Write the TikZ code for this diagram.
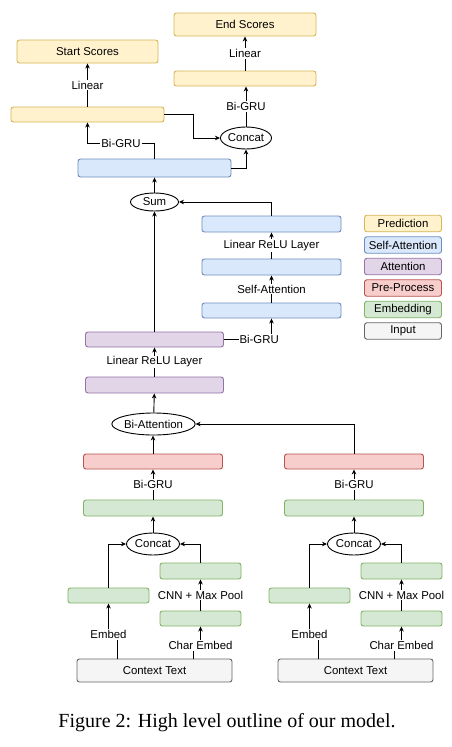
\documentclass[tikz,border=0pt]{standalone}
\usepackage{fontspec}
\setmainfont{Liberation Sans}
\newfontfamily\capfont{Liberation Serif}
\usepackage{tikz}
\usetikzlibrary{arrows.meta,shapes.geometric,calc}
\usepackage{xcolor}

\definecolor{predfill}{HTML}{FFF2CC}\definecolor{predline}{HTML}{D6B656}
\definecolor{safill}{HTML}{DAE8FC}\definecolor{saline}{HTML}{6C8EBF}
\definecolor{attfill}{HTML}{E1D5E7}\definecolor{attline}{HTML}{9673A6}
\definecolor{prefill}{HTML}{F8CECC}\definecolor{preline}{HTML}{B85450}
\definecolor{embfill}{HTML}{D5E8D4}\definecolor{embline}{HTML}{82B366}
\definecolor{inpfill}{HTML}{F5F5F5}\definecolor{inpline}{HTML}{666666}

\newcommand{\lblfont}{\fontsize{11.4}{13}\selectfont}

\tikzset{
  blk/.style={rectangle, rounded corners=2.5pt, line width=0.9pt, inner sep=0pt, font=\lblfont},
  pred/.style={blk, fill=predfill, draw=predline},
  sa/.style={blk, fill=safill, draw=saline},
  att/.style={blk, fill=attfill, draw=attline},
  pre/.style={blk, fill=prefill, draw=preline},
  emb/.style={blk, fill=embfill, draw=embline},
  inp/.style={blk, fill=inpfill, draw=inpline},
  op/.style={ellipse, draw, line width=0.9pt, fill=white, inner sep=0pt, font=\lblfont},
  lbl/.style={fill=white, inner sep=1pt, font=\lblfont},
  arr/.style={-{Stealth[length=5pt,width=4.5pt,inset=1.5pt]}, line width=0.9pt},
}

\begin{document}
\begin{tikzpicture}[x=1pt, y=-1pt]
  \useasboundingbox[fill=white] (0,0) rectangle (452,747);

  % prediction
  \node[pred, minimum width=142pt, minimum height=23pt] (endsc) at (245,24.5) {End Scores};
  \node[pred, minimum width=141pt, minimum height=23pt] (startsc) at (87.5,51.5) {Start Scores};
  \node[pred, minimum width=142pt, minimum height=15pt] (predR) at (245,78.5) {};
  \node[pred, minimum width=153pt, minimum height=15pt] (predL) at (87.5,114.5) {};
  \node[op, minimum width=49pt, minimum height=22pt] (concatT) at (246,138) {Concat};

  % self-attention
  \node[sa, minimum width=153pt, minimum height=18pt] (saTop) at (154.5,168) {};
  \node[op, minimum width=48pt, minimum height=18pt] (sum) at (154.5,202) {Sum};
  \node[sa, minimum width=139pt, minimum height=16pt] (sa1) at (271.5,224) {};
  \node[sa, minimum width=139pt, minimum height=16pt] (sa2) at (271.5,267) {};
  \node[sa, minimum width=139pt, minimum height=15pt] (sa3) at (271.5,310.5) {};

  % attention
  \node[att, minimum width=138pt, minimum height=15pt] (att2) at (154.5,339.5) {};
  \node[att, minimum width=138pt, minimum height=16pt] (att1) at (154.5,385) {};
  \node[op, minimum width=71pt, minimum height=22pt] (biatt) at (153.5,424) {Bi-Attention};

  % two embedding branches
  \foreach \s/\dx in {L/0,R/201}{
    \node[pre, minimum width=139pt, minimum height=15pt] (pre\s) at (153+\dx,461.5) {};
    \node[emb, minimum width=139pt, minimum height=16pt] (emb\s) at (153+\dx,508) {};
    \node[op, minimum width=53pt, minimum height=22pt] (concat\s) at (153+\dx,544) {Concat};
    \node[emb, minimum width=81pt, minimum height=15pt] (word\s) at (108.5+\dx,595.5) {};
    \node[emb, minimum width=81pt, minimum height=16pt] (cnn\s) at (200.5+\dx,571) {};
    \node[emb, minimum width=81pt, minimum height=15pt] (char\s) at (200.5+\dx,618.5) {};
    \node[inp, minimum width=155pt, minimum height=23pt] (ctx\s) at (154.5+\dx,670.5) {Context Text};

    \draw[arr] ([xshift=-37.5pt]ctx\s.north) -- ++(0,-24) -| node[lbl,pos=0.5]{Embed} (word\s.south);
    \draw[arr] ([xshift=38.5pt]ctx\s.north) -- ++(0,-13) -| node[lbl,pos=0.5]{Char Embed} (char\s.south);
    \draw[arr] (char\s) -- node[lbl]{CNN + Max Pool} (cnn\s);
    \draw[arr] (word\s.north) |- (concat\s.west);
    \draw[arr] (cnn\s.north) |- (concat\s.east);
    \draw[arr] (concat\s) -- (emb\s);
    \draw[arr] (emb\s) -- node[lbl]{Bi-GRU} (pre\s);
  }

  \draw[arr] (preL.north) -- (preL.north |- biatt.south);
  \draw[arr] (preR.north) |- (biatt.east);
  \draw[arr] (biatt) -- (att1);
  \draw[arr] (att1) -- node[lbl]{Linear ReLU Layer} (att2);
  \draw[arr] (att2.east) -| node[lbl,pos=0.37]{Bi-GRU} (sa3.south);
  \draw[arr] (att2) -- (sum);
  \draw[arr] (sa3) -- node[lbl]{Self-Attention} (sa2);
  \draw[arr] (sa2) -- node[lbl]{Linear ReLU Layer} (sa1);
  \draw[arr] (sa1.north) |- (sum.east);
  \draw[arr] (sum) -- (saTop);
  \draw[arr] (saTop.east) -| (concatT.south);
  \draw[arr] (saTop.north) -- ++(0,-15) -| node[lbl,pos=0.25]{Bi-GRU} (predL.south);
  \draw[arr] (predL.east) -- ++(29,0) |- (concatT.west);
  \draw[arr] (predL) -- node[lbl]{Linear} (startsc);
  \draw[arr] (concatT.north) -- node[lbl]{Bi-GRU} (concatT.north |- predR.south);
  \draw[arr] (predR) -- node[lbl]{Linear} (endsc);

  % legend
  \foreach \st/\txt [count=\i] in {pred/Prediction, sa/Self-Attention, att/Attention,
      pre/Pre-Process, emb/Embedding, inp/Input}
    \node[\st, minimum width=77pt, minimum height=16.5pt] (leg\i) at (403,223.5+21.5*\i-21.5) {\txt};

  \node[font=\capfont\fontsize{20}{24}\selectfont] (caption) at (227,723) {Figure 2: High level outline of our model.};
\end{tikzpicture}
\end{document}
